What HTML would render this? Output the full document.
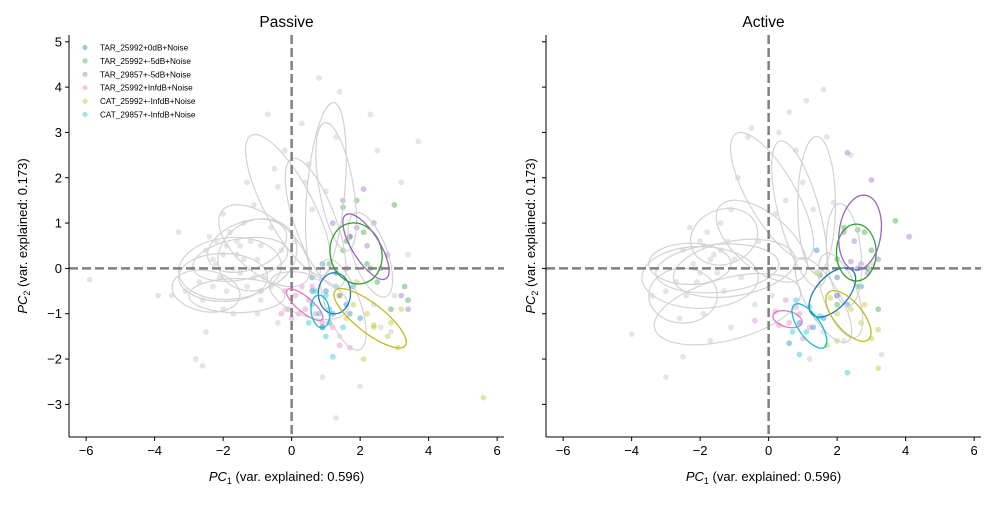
<!DOCTYPE html>
<html><head><meta charset="utf-8"><style>
body{margin:0;background:#fff;}
svg{font-family:"Liberation Sans","DejaVu Sans",sans-serif;}
</style></head><body>
<svg id="chart" width="1000" height="500" viewBox="0 0 1000 500" xmlns="http://www.w3.org/2000/svg"></svg>
<script>
const xTicks=[-6,-4,-2,0,2,4,6];
const yTicks=[-3,-2,-1,0,1,2,3,4,5];
const seriesNames=["TAR_25992+0dB+Noise","TAR_25992+-5dB+Noise","TAR_29857+-5dB+Noise","TAR_25992+InfdB+Noise","CAT_25992+-InfdB+Noise","CAT_29857+-InfdB+Noise"];
const seriesColors=["#1f77b4","#2ca02c","#9467bd","#e377c2","#bcbd22","#17becf"];
const panelTitles=["Passive","Active"];
// gray background points
const grayPassive=[[-2.5,0.4],[-2.2,0.1],[-1.9,0.5],[-1.6,0.3],[-2.1,-0.2],[-1.8,0.8],[-1.5,-0.1],[-2.7,-0.3],[-2.4,0.7],[-1.2,0.6],[-1.0,0.2],[-0.8,-0.2],[-2.9,0.0],[-3.1,-0.5],[-2.6,-0.7],[-1.9,-0.5],[-1.4,1.0],[-1.1,1.4],[-2.0,1.2],[-0.6,0.9],[-0.4,1.8],[-0.2,2.6],[0.3,3.2],[0.5,2.3],[0.8,4.2],[1.4,3.9],[1.3,2.9],[2.3,3.4],[2.5,2.6],[1.0,1.7],[0.6,1.3],[-0.5,2.2],[-1.3,1.9],[-2.3,0.2],[-1.7,0.0],[-1.3,-0.4],[-0.9,-0.7],[-0.6,-0.4],[-0.2,-0.9],[-1.7,-1.0],[-2.5,-1.4],[-2.8,-2.0],[-2.6,-2.15],[-3.3,0.8],[-3.5,-0.6],[-3.9,-0.6],[-5.9,-0.25],[-0.7,3.4],[0.4,1.9],[0.1,0.6],[0.9,-2.4],[1.3,-3.3],[2.0,-2.6],[1.4,-1.5],[2.6,-1.3],[3.2,1.9],[3.7,2.8],[3.4,0.3],[3.0,-0.6],[2.9,-1.4],[2.4,-0.8],[-0.4,-1.2],[-1.0,-1.0],[-1.5,0.5],[-2.2,0.6],[-2.0,-0.9],[-0.3,0.4],[-0.9,0.5],[-1.6,0.6],[-2.3,-0.4],[-1.1,-0.2],[-2.0,0.3],[-1.4,0.2]];
const grayActive=[[-2.5,0.4],[-2.2,0.1],[-1.9,0.5],[-1.6,0.3],[-2.1,-0.3],[-1.8,0.8],[-1.5,-0.1],[-2.7,-0.3],[-2.4,-0.6],[-1.2,0.6],[-1.0,0.2],[-0.8,-0.2],[-3.0,-0.5],[-3.4,-0.6],[-2.6,-1.1],[-1.9,-1.0],[-1.4,1.0],[-1.1,1.3],[-0.9,2.0],[-0.6,2.9],[-0.5,3.1],[0.3,3.0],[0.8,2.6],[1.1,3.7],[1.6,3.95],[2.4,2.5],[1.7,2.9],[0.5,1.5],[0.2,1.2],[-0.3,0.6],[1.0,1.9],[1.3,1.3],[-4.0,-1.45],[-3.0,-2.4],[-2.5,-1.95],[-1.7,-1.6],[-1.1,-1.3],[-0.4,-0.8],[0.1,-0.6],[1.9,1.45],[0.6,3.45],[3.3,-1.9],[3.0,0.1],[1.6,-1.4],[2.2,-1.6],[1.2,-2.0],[-2.0,0.6],[-1.3,-0.5],[-2.3,0.9],[-1.7,0.2],[-2.0,-0.1],[-1.4,0.4]];
// colored series points
const passive0=[[0.6,-0.2],[1.0,-0.5],[1.3,-0.1],[1.6,-0.8],[0.9,-1.3],[1.2,-1.0],[1.8,-0.4],[2.0,-1.1],[0.6,-0.5],[1.1,-1.2],[1.4,-0.6],[1.7,-1.0],[0.9,0.1]];
const passive1=[[1.9,1.5],[1.5,1.35],[2.5,-0.3],[3.0,1.4],[1.6,0.6],[2.1,0.8],[1.5,0.4],[2.3,0.0],[1.1,0.1],[3.4,-0.7],[3.3,-0.4],[1.7,0.7],[2.9,-0.9],[2.2,0.1]];
const passive2=[[1.5,1.5],[2.1,1.75],[1.2,1.0],[2.4,1.0],[2.2,0.5],[2.8,0.3],[3.2,-0.6],[3.4,-0.9],[1.7,0.7],[2.6,0.0],[1.9,0.9],[1.6,0.0]];
const passive3=[[-0.2,-0.5],[0.1,-0.6],[0.3,-0.4],[0.5,-0.7],[0.4,-0.9],[0.0,-1.1],[-0.3,-1.0],[0.7,-1.0],[0.9,-1.2],[1.2,-1.3],[1.7,-1.75],[1.4,-1.7],[-0.9,-0.5],[-0.1,-0.9],[0.6,-0.4],[0.2,-1.0]];
const passive4=[[1.4,-0.6],[1.8,-0.8],[2.2,-1.0],[2.4,-1.3],[2.8,-1.5],[3.1,-1.75],[2.1,-2.0],[1.9,-0.3],[2.9,-1.2],[3.2,-0.9],[5.6,-2.85],[2.4,-1.25],[1.6,-1.1]];
const passive5=[[0.6,-0.8],[0.8,-1.0],[1.0,-0.6],[0.9,-1.3],[0.5,-1.2],[1.1,-0.9],[1.2,-1.95],[1.5,-1.3],[0.7,-0.5],[1.3,-0.4],[1.0,-1.5]];
const active0=[[1.4,0.4],[2.0,-0.2],[2.3,-0.8],[1.6,-1.1],[0.9,-1.2],[1.3,-1.3],[2.6,0.0],[2.0,-0.6],[0.6,-1.65],[2.7,-0.4]];
const active1=[[3.7,1.05],[2.6,0.85],[2.8,0.8],[2.2,0.9],[3.0,0.4],[2.0,0.2],[2.6,-0.4],[3.2,-0.9],[2.0,-0.8],[1.5,-0.15],[2.9,0.0]];
const active2=[[2.3,2.55],[3.0,1.95],[4.1,0.7],[2.2,0.8],[2.5,0.6],[2.4,0.15],[2.9,-0.1],[3.2,0.2],[2.0,-0.6],[2.7,0.1]];
const active3=[[0.6,-1.2],[0.9,-1.0],[1.2,-1.3],[0.3,-1.25],[-0.4,-1.15],[1.0,-1.55],[0.2,-0.95],[0.8,-0.85],[0.5,-0.7]];
const active4=[[3.2,-2.2],[2.0,-1.0],[1.8,-0.65],[2.4,-0.9],[2.7,-1.2],[3.2,-1.35],[1.4,-0.1],[2.8,-0.8],[3.0,-1.55],[1.7,-1.7],[2.0,-1.6]];
const active5=[[0.8,-0.7],[1.4,-1.1],[1.1,-1.4],[0.9,-1.9],[2.3,-2.3],[1.5,-1.05],[0.7,-1.4],[1.2,-0.85]];
// ellipses: [cx, cy, semiA, semiB (x-data units), angle deg]
const ellPassiveGray=[[-1.8,0.0,1.5,0.9,-5],[-1.5,0.2,1.4,0.6,-10],[-2.0,-0.2,1.3,0.7,0],[-1.3,0.5,1.2,0.7,-20],[-1.0,0.3,1.2,1.0,-30],[-1.6,-0.6,1.4,0.5,0],[-0.1,1.4,2.3,0.7,62],[1.0,1.7,2.6,0.55,95],[1.3,1.8,1.9,0.5,80],[0.7,1.0,2.0,0.6,70],[-0.8,0.5,1.6,0.8,40],[1.5,-0.8,1.4,0.5,70],[0.5,-0.6,1.2,0.6,20],[2.3,0.3,1.3,0.5,70],[-2.5,-0.5,1.0,0.6,10]];
const ellActiveGray=[[-2.0,-0.2,1.7,0.9,0],[-1.5,0.0,1.8,0.7,-5],[-2.3,0.1,1.2,0.6,0],[-1.0,0.0,1.8,0.8,-10],[-1.2,-0.9,2.2,0.9,-15],[0.1,1.6,2.1,0.7,60],[1.4,1.4,2.0,0.55,90],[0.9,1.2,2.2,0.6,75],[-0.2,0.6,1.6,0.8,40],[-1.3,0.7,1.0,0.8,-20],[2.1,-0.6,1.3,0.5,70],[1.6,-0.7,1.4,0.5,60],[2.2,0.3,1.5,0.5,85],[-2.5,-0.6,1.0,0.8,0]];
const ellPassive=[[1.25,-0.55,0.47,0.6,0],[1.88,0.33,0.75,0.9,-15],[2.17,0.48,1.1,0.4,58],[0.38,-0.8,0.67,0.22,40],[2.29,-1.1,1.3,0.42,38],[0.84,-0.95,0.27,0.48,-8]];
const ellActive=[[1.86,-0.53,0.87,0.47,-48],[2.56,0.35,0.58,0.83,0],[2.67,0.79,0.61,1.1,8],[0.55,-1.12,0.44,0.23,15],[2.33,-1.05,0.9,0.41,50],[1.19,-1.27,0.76,0.32,55]];

const NS="http://www.w3.org/2000/svg";
const svg=document.getElementById('chart');
function mk(tag,attrs,parent){const e=document.createElementNS(NS,tag);for(const k in attrs)e.setAttribute(k,attrs[k]);(parent||svg).appendChild(e);return e;}
const Y0=35,Y1=437,XMIN=-6.5,XMAX=6.2,YMIN=-3.72,YMAX=5.15;
function makePanel(left,title,gray,series,ellGray,ellCol,showYLabels,idx){
  const W=435;
  const sx=v=>left+(v-XMIN)/(XMAX-XMIN)*W;
  const sy=v=>Y1-(v-YMIN)/(YMAX-YMIN)*(Y1-Y0);
  const kx=W/(XMAX-XMIN);
  const g=mk('g',{});
  
  
  const clip=mk('clipPath',{id:'clip'+idx},g);
  mk('rect',{x:left,y:Y0,width:W,height:Y1-Y0},clip);
  const plot=mk('g',{'clip-path':'url(#clip'+idx+')'},g);
  gray.forEach(p=>{const c=mk('circle',{cx:sx(p[0]),cy:sy(p[1]),r:2.9,fill:'#d3d3d3','fill-opacity':0.6},plot);
    
    });
  series.forEach((pts,i)=>pts.forEach(p=>{const c=mk('circle',{cx:sx(p[0]),cy:sy(p[1]),r:2.9,fill:seriesColors[i],'fill-opacity':0.4},plot);
    
    }));
  ellGray.forEach(e=>{const el=mk('ellipse',{cx:0,cy:0,rx:e[2]*kx,ry:e[3]*kx,fill:'none',stroke:'#d3d3d3','stroke-width':1.2,transform:`translate(${sx(e[0])},${sy(e[1])}) rotate(${e[4]})`},plot);
    
    });
  mk('line',{x1:left,x2:left+W,y1:sy(0),y2:sy(0),stroke:'#808080','stroke-width':2.5,'stroke-dasharray':'9,4'},plot);
  mk('line',{x1:sx(0),x2:sx(0),y1:Y0,y2:Y1,stroke:'#808080','stroke-width':2.5,'stroke-dasharray':'9,4'},plot);
  ellCol.forEach((e,i)=>{const el=mk('ellipse',{cx:0,cy:0,rx:e[2]*kx,ry:e[3]*kx,fill:'none',stroke:seriesColors[i],'stroke-width':1.3,transform:`translate(${sx(e[0])},${sy(e[1])}) rotate(${e[4]})`},plot);
    
    });
  mk('line',{x1:left,x2:left,y1:Y0,y2:Y1,stroke:'#000','stroke-width':1},g);
  mk('line',{x1:left,x2:left+W,y1:Y1,y2:Y1,stroke:'#000','stroke-width':1},g);
  xTicks.forEach(t=>{mk('line',{x1:sx(t),x2:sx(t),y1:Y1,y2:Y1+4,stroke:'#000'},g);
    const tx=mk('text',{x:sx(t),y:Y1+18,'font-size':13,'text-anchor':'middle'},g);tx.textContent=(t<0?'\u2212'+(-t):t);
    
    });
  yTicks.forEach(t=>{mk('line',{x1:left-4,x2:left,y1:sy(t),y2:sy(t),stroke:'#000'},g);
    if(showYLabels){const tx=mk('text',{x:left-7,y:sy(t)+4.5,'font-size':13,'text-anchor':'end'},g);tx.textContent=(t<0?'\u2212'+(-t):t);
    
    }});
  const tt=mk('text',{x:left+W/2,y:27,'font-size':15.5,'text-anchor':'middle'},g);tt.textContent=title;
  
  
  const xl=mk('text',{x:left+W/2,y:481,'font-size':13,'text-anchor':'middle'},g);
  xl.innerHTML='<tspan font-style="italic">PC</tspan><tspan font-size="9" dy="3">1</tspan><tspan dy="-3"> (var. explained: 0.596)</tspan>';
  
  
  const yx=showYLabels?27:535;
  const yl=mk('text',{x:0,y:0,'font-size':13,'text-anchor':'middle',transform:`translate(${yx},${(Y0+Y1)/2}) rotate(-90)`},g);
  yl.innerHTML='<tspan font-style="italic">PC</tspan><tspan font-size="9" dy="3">2</tspan><tspan dy="-3"> (var. explained: 0.173)</tspan>';
  
  
}
makePanel(69,panelTitles[0],grayPassive,[passive0,passive1,passive2,passive3,passive4,passive5],ellPassiveGray,ellPassive,true,0);
makePanel(546,panelTitles[1],grayActive,[active0,active1,active2,active3,active4,active5],ellActiveGray,ellActive,false,1);
const lg=mk('g',{});


seriesNames.forEach((n,i)=>{const y=47.5+i*13.4;
  const c=mk('circle',{cx:85,cy:y,r:2.6,fill:seriesColors[i],'fill-opacity':0.4},lg);
  
  
  const t=mk('text',{x:100,y:y+3,'font-size':8.2},lg);t.textContent=n;
  
  });
</script>
</body></html>
